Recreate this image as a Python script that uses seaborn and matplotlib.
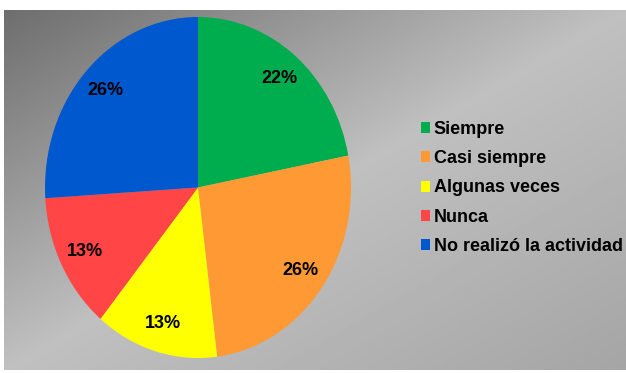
import numpy as np
import matplotlib
matplotlib.use("Agg")
import matplotlib.pyplot as plt
import seaborn as sns

categories = ["Siempre", "Casi siempre", "Algunas veces", "Nunca", "No realizó la actividad"]
values = [22, 26, 13, 13, 26]
colors = ["#00AD4E", "#FF9933", "#FFFF00", "#FF4545", "#0058CF"]

sns.set_theme(style="white")
plt.rcParams["font.family"] = ["Liberation Sans", "DejaVu Sans"]
plt.rcParams["text.color"] = "black"

W, H = 626, 373
fig = plt.figure(figsize=(W / 100, H / 100), dpi=100)

# gradient gray panel behind the pie
bg = fig.add_axes([4 / W, 3 / H, 622 / W, 360 / H])
u, v = np.meshgrid(np.linspace(0, 1, 300), np.linspace(0, 1, 200))
t = u + v
shade = np.where(t <= 1, 110 + 82 * t, 192 - 27 * (t - 1)) / 255
bg.imshow(shade, cmap="gray", vmin=0, vmax=1, aspect="auto", interpolation="bilinear")
bg.set_axis_off()

ax = fig.add_axes([45 / W, 15 / H, 306 / W, 341 / H])
wedges, texts, autotexts = ax.pie(
    values, colors=colors, startangle=90, counterclock=False,
    autopct="%1.0f%%", pctdistance=0.83,
    wedgeprops=dict(linewidth=0),
    textprops=dict(fontsize=13, fontweight="bold", color="black"),
)
ax.set_aspect("auto")
ax.set_xlim(-1, 1)
ax.set_ylim(-1, 1)
ax.set_axis_off()

leg = fig.legend(
    wedges, categories, loc="center left", bbox_to_anchor=(421 / W, 1 - 188 / H),
    frameon=False, prop=dict(weight="bold", size=13),
    handlelength=0.5, handleheight=0.55, handletextpad=0.2,
    labelspacing=0.68, borderpad=0, borderaxespad=0,
)
for txt in leg.get_texts():
    txt.set_color("black")

fig.savefig("out.png", dpi=100, facecolor="white")
